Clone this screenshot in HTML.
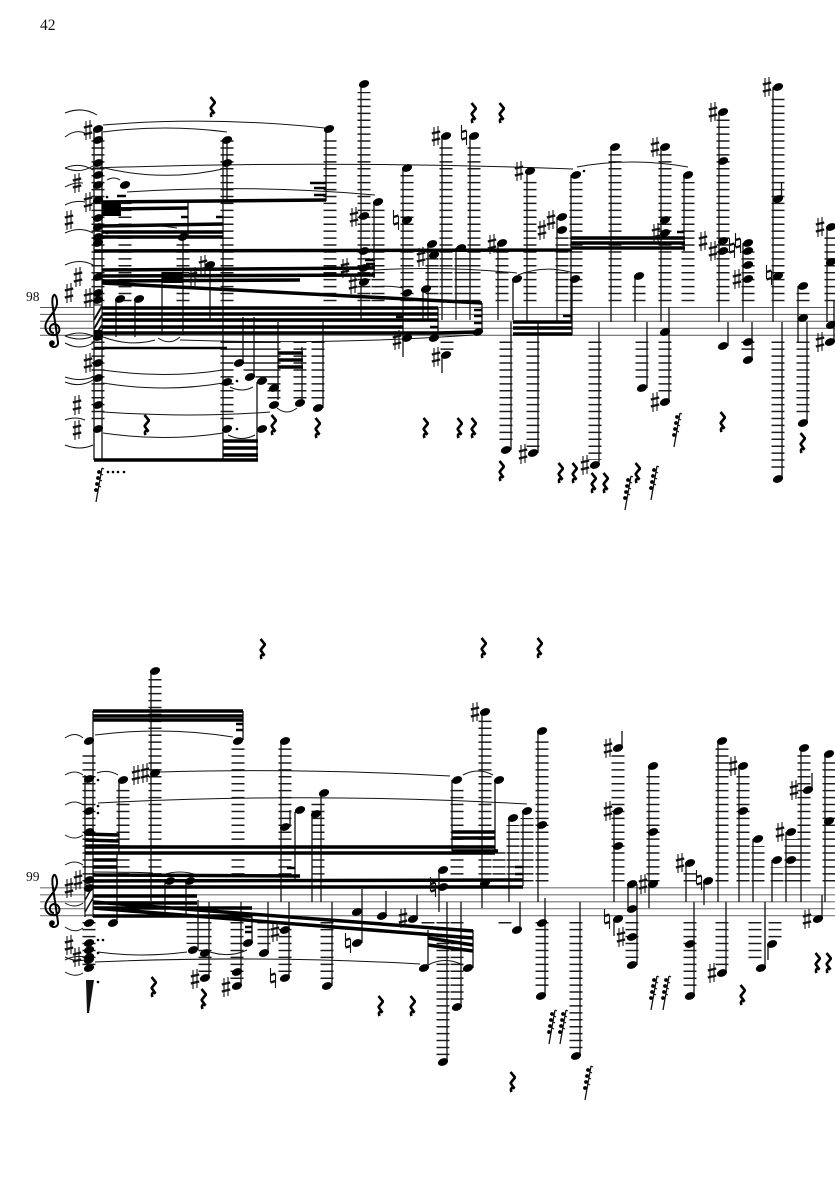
<!DOCTYPE html>
<html><head><meta charset="utf-8"><style>
html,body{margin:0;padding:0;background:#fff}
svg{display:block}
text{font-family:"Liberation Serif",serif;fill:#111}
.staff{stroke:#555;stroke-width:1;fill:none}
.staff2{stroke:#777;stroke-width:1.2;fill:none}
.led{stroke:#1a1a1a;stroke-width:13;stroke-dasharray:1.5 5.43;fill:none}
.stem{stroke:#111;stroke-width:1.3;fill:none}
.b{stroke:#000;stroke-width:3.5;fill:none}
.b2{stroke:#000;stroke-width:2.4;fill:none}
.slur{stroke:#111;stroke-width:1;fill:none}
</style></head><body>
<svg xmlns="http://www.w3.org/2000/svg" width="835" height="1181" viewBox="0 0 835 1181">
<defs>
<ellipse id="n" rx="5.3" ry="3.6" transform="rotate(-22)" fill="#000"/>
<g id="s" stroke="#111" fill="none"><path d="M-2-9V10M2-10V9" stroke-width="1.1"/><path d="M-4.200-2.500L4.200-4.500M-4.200 4.500L4.200 2.500" stroke-width="2.400"/></g>
<g id="h" stroke="#111" fill="none"><path d="M-2.500-10V4M2.500-4V10" stroke-width="1.100"/><path d="M-2.500-3L2.500-4.500M-2.500 4.500L2.500 3" stroke-width="2.400"/></g>
<path id="r" d="M-1.500-10L3-4.500L-1.500 1L2.500 6.500C0 5-2 6-.5 10" stroke="#000" stroke-width="2.600" fill="none" stroke-linejoin="bevel"/>
<g id="g"><path d="M3-17L-3 17" stroke="#111" stroke-width="1.300" fill="none"/><circle cx="0" cy="-13" r="1.900"/><circle cx="-1" cy="-7" r="1.900"/><circle cx="-2" cy="-1" r="1.900"/><circle cx="-3" cy="5" r="1.900"/><path d="M3-17l2 1M2-11l2 1M1-5l2 1M0 1l2 1" stroke="#111" stroke-width="1.200"/></g>
<g id="c"><path d="M1 5C-4 5-5-3 1-4C7-4 9 5 2 7C-6 8-10 0-6-7C-3-13 3-17 4-24C4.500-30 2-34 1-33C-1-31-1-26 0-20L5 14C6 20-3 21-3 15" fill="none" stroke="#000" stroke-width="2"/><circle cx="-1" cy="15" r="2.800" fill="#000"/></g>
</defs>

<text x="40" y="30" font-size="15.500">42</text>
<text x="26" y="301" font-size="13.500">98</text>
<text x="26" y="881" font-size="13.500">99</text>

<path class="staff" d="M40 307.500H835M40 314.400H835M40 321.300H835M40 328.200H835M40 335.200H835"/>
<path class="staff2" d="M40 887.800H835M40 894.800H835M40 901.800H835M40 908.700H835M40 915.700H835"/>
<use href="#c" x="53" y="328"/>
<use href="#c" x="53" y="908"/>

<!-- ledger stacks system 1 -->
<path class="led" d="M98 301.200V137M125 301.200V200M183 301.200V243M227 301.200V140M330 301.200V137M364 301.200V92M378 301.200V209M407 301.200V175M432 301.200V251M446 301.200V143M461 301.200V255M474 301.200V143M502 301.200V250M530 301.200V178M562 301.200V237M576 301.200V182M615 301.200V153M665 301.200V153M688 301.200V182M639 301.200V283M723 301.200V118M748 301.200V250M778 301.200V94M803 301.200V292M831 301.200V234
M98 341.500V421M227 341.500V421M240 341.500V360M250 341.500V375M262 341.500V380M274 341.500V400M300 341.500V400M318 341.500V402M447 341.500V350M506 341.500V445M533 341.500V449M595 341.500V460M642 341.500V382M665 341.500V396M748 341.500V350M778 341.500V473M803 341.500V417"/>
<!-- ledger stacks system 2 -->
<path class="led" d="M89 881.500V755M155 881.500V678M123 881.500V786M238 881.500V748M285 881.500V748M318 881.500V800M457 881.500V787M485 881.500V720M499 881.500V852M513 881.500V825M527 881.500V818M542 881.500V740M618 881.500V754M653 881.500V773M690 881.500V870M722 881.500V748M743 881.500V773M758 881.500V846M777 881.500V867M791 881.500V839M804 881.500V754M829 881.500V760
M89 922V966M193 922V944M205 922V972M237 922V980M264 922V946M285 922V972M327 922V980M372 922V924M428 922V924M443 922V1056M457 922V1000M505 922V924M542 922V990M576 922V1050M632 922V958M690 922V990M722 922V966M755 922V960M775 922V940"/>

<!-- stems -->
<path class="stem" d="M94 130V460M102 130V460M116 300V337M135 300V337M162 272V335M183 237V335M188 203V237M210 265V320M223 140V460M227 140V200M243 317V363M254 317V377M257 382V460M278 322V400M302 347V403M323 322V408M326 129V201M361 84V320M374 202V278M403 168V357M423 289V320M428 244V320M438 308V334M442 136V320M442 355V373M456 248V320M470 136V320M482 303V332M498 243V320M511 322V450M513 279V320M527 171V322M538 322V453M557 217V322M571 175V322M572 279V335M599 322V462M611 147V322M635 276V322M647 322V388M661 147V322M669 307V400M684 175V251M719 112V322M728 322V346M743 243V322M752 322V360M773 87V322M782 322V479M781.500 182V199M798 286V342M807 322V423M827 227V322M834 300V342"/>
<path class="stem" d="M85 775V917M93 711V917M119 780V853M117 853V920M151 671V901M165 881V915M186 881V915M198 900V950M209 902V978M241 902V986M243 711V740M252 916V943M268 902V953M281 741V902M290 810V827M295 812V880M289 902V978M312 814V902M321 793V902M332 902V986M362 889V943M386 891V916M417 895V919M428 930V968M439 870V912M447 902V1062M452 780V851M461 902V1007M473 930V968M482 712V908M495 780V851M509 818V902M520 902V928M523 811V886M538 731V902M545 898V995M580 902V1056M614 811V902M614 919V936M622 731V748M628 884V909M637 884V965M649 766V908M686 863V902M694 902V995M704 881V905M718 741V902M726 902V973M739 766V902M753 839V902M765 902V968M768 944V960M772 860V902M786 832V902M801 748V902M812 773V790M822 895V919M825 754V902"/>

<!-- beams system 1 -->
<rect x="102" y="201" width="19" height="15" fill="#000"/>
<rect x="162" y="272" width="21" height="11" fill="#000"/>
<path class="b" d="M102 202L326 200M102 209L188 208M102 214H121M102 226L223 224M102 232H223M102 237H223M94 251L572 250M102 270L375 268M102 276L375 275M102 281L300 280M102 283L482 303M102 308H438M102 314H438M102 320H438M102 327H403M102 333H438M438 333L478 332M513 322H572M513 328H572M513 334H572M571 238H685M571 243H685M571 248H685M94 460H258M223 441H258M223 448H258M223 455H258M278 353H303M278 360H303M278 367H303"/>
<path class="b2" d="M94 348H227M310 183H326M314 188H326M314 195H326M365 260H375M366 264H375M474 310H482M474 316H482M474 323H482M396 317H403M430 327H438M563 316H572M677 232H684M188 217H181M223 217H216M126 196H117"/>
<!-- beams system 2 -->
<path class="b" d="M93 711H243M93 716H243M93 720H243M85 834L119 835M85 840L119 841M85 846H119M85 847H495M85 853H495M93 860H117M93 867H117M452 832H495M452 838H495M93 875L300 876M85 881L523 880M85 887L523 887M93 896H197M93 903H197M93 908H252M93 916H252M93 902L473 931M93 908L473 938M428 938L473 945M428 945L473 951M498 851H452"/>
<path class="b2" d="M236 724H243M236 730H243M515 867H523M515 874H523M245 927H252M245 932H252M287 868H295"/>

<!-- hatches -->
<path d="M94 305H102V335H94Z" fill="#fff" stroke="#111" stroke-width="1"/>
<path d="M94 320L102 306M94 329L102 315M94 337L102 325" stroke="#111" stroke-width="2" fill="none"/>
<path d="M85 885H93V915H85Z" fill="#fff" stroke="#111" stroke-width="1"/>
<path d="M85 900L93 886M85 912L93 898" stroke="#111" stroke-width="1.500" fill="none"/>
<rect x="94" y="330" width="8" height="10" fill="#000"/>

<!-- slurs system 1 -->
<path class="slur" d="M103 125Q210 116 325 128M103 132Q165 124 227 132M93 168Q330 160 573 169M100 167Q165 183 227 168M127 192Q250 184 375 195M105 227Q140 222 177 228M107 180Q114 176 120 180M103 337Q130 347 155 340M158 338Q170 346 180 337M180 340Q330 345 473 335M103 370Q165 379 223 370M103 383Q165 393 223 383M103 412Q190 418 270 412M103 433Q165 442 223 433M230 387Q242 393 253 387M228 435Q242 442 255 435M277 408Q287 416 297 408M577 167Q630 157 688 167M518 275Q543 265 570 272M374 270Q445 266 517 273M375 287Q390 285 403 288M65 113Q82 106 97 115M65 137Q75 129 85 133M65 168Q80 162 93 170M65 168Q80 174 93 166M65 187Q74 182 83 183M65 205Q75 200 85 202M65 233Q80 226 93 233M65 265Q80 258 93 265M65 336Q80 330 93 336M65 336Q80 342 93 336M65 343Q80 351 93 343M65 377Q80 382 93 377M65 382Q80 388 93 380M65 420Q75 416 85 420M65 445Q80 451 93 445"/>
<!-- slurs system 2 -->
<path class="slur" d="M95 735Q165 726 233 737M160 772Q300 768 450 776M463 775Q478 767 493 775M97 773Q108 769 118 775M98 803Q310 792 527 804M95 962Q260 955 420 964M98 952Q140 958 187 952M210 952Q230 958 247 950M428 965Q445 956 463 965M93 872Q125 872 153 873M162 875Q180 869 197 875M65 738Q75 731 83 738M65 775Q75 769 83 775M65 805Q75 799 83 805M65 835Q75 841 83 835M65 865Q75 859 83 865M65 903Q75 909 83 903M65 927Q75 934 83 928M65 957Q75 962 85 960M65 960Q75 955 85 957M65 972Q75 978 83 973"/>

<!-- notes system 1 -->
<use href="#n" x="98" y="129"/><use href="#n" x="98" y="140"/><use href="#n" x="98" y="163"/><use href="#n" x="98" y="175"/><use href="#n" x="98" y="185"/><use href="#n" x="98" y="200"/><use href="#n" x="98" y="218"/><use href="#n" x="98" y="227"/><use href="#n" x="98" y="237"/><use href="#n" x="98" y="243"/><use href="#n" x="98" y="277"/><use href="#n" x="98" y="293"/><use href="#n" x="98" y="300"/><use href="#n" x="98" y="337"/><use href="#n" x="98" y="363"/><use href="#n" x="98" y="378"/><use href="#n" x="98" y="405"/><use href="#n" x="98" y="429"/>
<use href="#n" x="125" y="185"/><use href="#n" x="120" y="299"/><use href="#n" x="139" y="299"/><use href="#n" x="183" y="237"/><use href="#n" x="210" y="265"/><use href="#n" x="227" y="140"/><use href="#n" x="227" y="163"/><use href="#n" x="227" y="382"/><use href="#n" x="227" y="429"/><use href="#n" x="239" y="363"/><use href="#n" x="250" y="377"/><use href="#n" x="262" y="381"/><use href="#n" x="274" y="388"/><use href="#n" x="274" y="405"/><use href="#n" x="262" y="429"/><use href="#n" x="300" y="403"/><use href="#n" x="318" y="408"/>
<use href="#n" x="329" y="129"/><use href="#n" x="364" y="84"/><use href="#n" x="364" y="216"/><use href="#n" x="364" y="251"/><use href="#n" x="364" y="268"/><use href="#n" x="364" y="282"/><use href="#n" x="378" y="202"/><use href="#n" x="407" y="168"/><use href="#n" x="407" y="220"/><use href="#n" x="407" y="293"/><use href="#n" x="407" y="338"/><use href="#n" x="432" y="244"/><use href="#n" x="434" y="255"/><use href="#n" x="426" y="289"/><use href="#n" x="434" y="338"/><use href="#n" x="446" y="355"/><use href="#n" x="446" y="136"/><use href="#n" x="461" y="248"/><use href="#n" x="474" y="136"/><use href="#n" x="478" y="332"/><use href="#n" x="502" y="243"/><use href="#n" x="530" y="171"/><use href="#n" x="517" y="279"/><use href="#n" x="562" y="217"/><use href="#n" x="562" y="230"/><use href="#n" x="576" y="175"/><use href="#n" x="575" y="279"/><use href="#n" x="506" y="450"/><use href="#n" x="533" y="453"/>
<use href="#n" x="615" y="147"/><use href="#n" x="665" y="147"/><use href="#n" x="665" y="220"/><use href="#n" x="665" y="233"/><use href="#n" x="688" y="175"/><use href="#n" x="639" y="276"/><use href="#n" x="723" y="112"/><use href="#n" x="723" y="161"/><use href="#n" x="723" y="241"/><use href="#n" x="723" y="251"/><use href="#n" x="748" y="243"/><use href="#n" x="748" y="251"/><use href="#n" x="748" y="265"/><use href="#n" x="748" y="279"/><use href="#n" x="778" y="87"/><use href="#n" x="778" y="199"/><use href="#n" x="778" y="276"/><use href="#n" x="803" y="286"/><use href="#n" x="803" y="318"/><use href="#n" x="803" y="423"/><use href="#n" x="831" y="227"/><use href="#n" x="831" y="262"/><use href="#n" x="831" y="325"/><use href="#n" x="830" y="342"/>
<use href="#n" x="595" y="465"/><use href="#n" x="642" y="388"/><use href="#n" x="665" y="332"/><use href="#n" x="665" y="402"/><use href="#n" x="723" y="346"/><use href="#n" x="748" y="342"/><use href="#n" x="748" y="360"/><use href="#n" x="778" y="479"/>

<!-- notes system 2 -->
<use href="#n" x="89" y="741"/><use href="#n" x="238" y="741"/><use href="#n" x="155" y="671"/><use href="#n" x="155" y="773"/><use href="#n" x="89" y="779"/><use href="#n" x="89" y="811"/><use href="#n" x="89" y="832"/><use href="#n" x="89" y="880"/><use href="#n" x="89" y="888"/><use href="#n" x="89" y="923"/><use href="#n" x="89" y="943"/><use href="#n" x="89" y="950"/><use href="#n" x="89" y="957"/><use href="#n" x="89" y="960"/><use href="#n" x="89" y="968"/><use href="#n" x="123" y="780"/><use href="#n" x="113" y="923"/>
<use href="#n" x="285" y="741"/><use href="#n" x="285" y="827"/><use href="#n" x="300" y="810"/><use href="#n" x="316" y="814"/><use href="#n" x="324" y="793"/><use href="#n" x="170" y="881"/><use href="#n" x="190" y="881"/><use href="#n" x="193" y="950"/><use href="#n" x="205" y="953"/><use href="#n" x="205" y="978"/><use href="#n" x="237" y="972"/><use href="#n" x="237" y="986"/><use href="#n" x="248" y="943"/><use href="#n" x="264" y="953"/><use href="#n" x="285" y="930"/><use href="#n" x="285" y="978"/><use href="#n" x="327" y="986"/>
<use href="#n" x="357" y="912"/><use href="#n" x="357" y="943"/><use href="#n" x="382" y="916"/><use href="#n" x="413" y="919"/><use href="#n" x="424" y="968"/><use href="#n" x="468" y="968"/><use href="#n" x="443" y="870"/><use href="#n" x="443" y="887"/><use href="#n" x="443" y="1062"/><use href="#n" x="457" y="1007"/><use href="#n" x="457" y="780"/><use href="#n" x="499" y="780"/><use href="#n" x="485" y="712"/><use href="#n" x="485" y="883"/><use href="#n" x="542" y="731"/><use href="#n" x="542" y="825"/><use href="#n" x="542" y="923"/><use href="#n" x="541" y="996"/><use href="#n" x="513" y="818"/><use href="#n" x="527" y="811"/><use href="#n" x="517" y="930"/>
<use href="#n" x="618" y="748"/><use href="#n" x="618" y="811"/><use href="#n" x="618" y="846"/><use href="#n" x="653" y="766"/><use href="#n" x="653" y="832"/><use href="#n" x="653" y="884"/><use href="#n" x="632" y="884"/><use href="#n" x="632" y="909"/><use href="#n" x="632" y="937"/><use href="#n" x="632" y="965"/><use href="#n" x="618" y="919"/><use href="#n" x="576" y="1056"/><use href="#n" x="690" y="863"/><use href="#n" x="708" y="881"/><use href="#n" x="690" y="944"/><use href="#n" x="690" y="996"/><use href="#n" x="722" y="741"/><use href="#n" x="743" y="766"/><use href="#n" x="743" y="811"/><use href="#n" x="722" y="973"/><use href="#n" x="758" y="839"/><use href="#n" x="777" y="860"/><use href="#n" x="791" y="832"/><use href="#n" x="791" y="860"/><use href="#n" x="804" y="748"/><use href="#n" x="808" y="790"/><use href="#n" x="829" y="754"/><use href="#n" x="829" y="821"/><use href="#n" x="818" y="919"/><use href="#n" x="761" y="968"/><use href="#n" x="772" y="944"/>

<!-- sharps -->
<use href="#s" x="88" y="130"/><use href="#s" x="77" y="183"/><use href="#s" x="88" y="202"/><use href="#s" x="69" y="220"/><use href="#s" x="78" y="277"/><use href="#s" x="69" y="293"/><use href="#s" x="88" y="298"/><use href="#s" x="88" y="363"/><use href="#s" x="77" y="405"/><use href="#s" x="77" y="430"/><use href="#s" x="193" y="277"/><use href="#s" x="203" y="265"/><use href="#s" x="354" y="217"/><use href="#s" x="345" y="268"/><use href="#s" x="353" y="284"/><use href="#s" x="397" y="340"/><use href="#s" x="421" y="257"/><use href="#s" x="436" y="136"/><use href="#s" x="436" y="357"/><use href="#s" x="492" y="244"/><use href="#s" x="519" y="171"/><use href="#s" x="551" y="220"/><use href="#s" x="542" y="230"/><use href="#s" x="523" y="454"/><use href="#s" x="585" y="465"/><use href="#s" x="655" y="147"/><use href="#s" x="656" y="233"/><use href="#s" x="655" y="402"/><use href="#s" x="713" y="112"/><use href="#s" x="703" y="241"/><use href="#s" x="713" y="251"/><use href="#s" x="737" y="279"/><use href="#s" x="767" y="87"/><use href="#s" x="820" y="227"/><use href="#s" x="820" y="342"/>
<use href="#s" x="69" y="888"/><use href="#s" x="78" y="880"/><use href="#s" x="69" y="945"/><use href="#s" x="77" y="957"/><use href="#s" x="136" y="775"/><use href="#s" x="145" y="773"/><use href="#s" x="195" y="979"/><use href="#s" x="226" y="987"/><use href="#s" x="275" y="932"/><use href="#s" x="403" y="918"/><use href="#s" x="475" y="712"/><use href="#s" x="608" y="748"/><use href="#s" x="608" y="811"/><use href="#s" x="621" y="937"/><use href="#s" x="643" y="884"/><use href="#s" x="680" y="863"/><use href="#s" x="712" y="973"/><use href="#s" x="733" y="766"/><use href="#s" x="780" y="832"/><use href="#s" x="794" y="790"/><use href="#s" x="807" y="919"/>

<!-- naturals -->
<use href="#h" x="396" y="220"/><use href="#h" x="464" y="135"/><use href="#h" x="732" y="248"/><use href="#h" x="738" y="243"/><use href="#h" x="769" y="275"/><use href="#h" x="273" y="978"/><use href="#h" x="348" y="943"/><use href="#h" x="433" y="887"/><use href="#h" x="607" y="919"/><use href="#h" x="699" y="880"/>

<!-- rests -->
<use href="#r" x="212" y="107"/><use href="#r" x="146" y="425"/><use href="#r" x="273" y="425"/><use href="#r" x="473" y="113"/><use href="#r" x="501" y="113"/><use href="#r" x="317" y="428"/><use href="#r" x="425" y="428"/><use href="#r" x="459" y="428"/><use href="#r" x="473" y="428"/><use href="#r" x="501" y="471"/><use href="#r" x="560" y="473"/><use href="#r" x="574" y="473"/><use href="#r" x="593" y="483"/><use href="#r" x="605" y="483"/><use href="#r" x="637" y="473"/><use href="#r" x="722" y="422"/><use href="#r" x="802" y="443"/>
<use href="#r" x="262" y="649"/><use href="#r" x="483" y="648"/><use href="#r" x="539" y="648"/><use href="#r" x="153" y="987"/><use href="#r" x="203" y="999"/><use href="#r" x="380" y="1006"/><use href="#r" x="412" y="1006"/><use href="#r" x="512" y="1082"/><use href="#r" x="742" y="995"/><use href="#r" x="817" y="963"/><use href="#r" x="828" y="963"/>

<!-- grace clusters -->
<use href="#g" x="99" y="485"/><use href="#g" x="677" y="430"/><use href="#g" x="628" y="493"/><use href="#g" x="654" y="483"/><use href="#g" x="654" y="993"/><use href="#g" x="666" y="993"/><use href="#g" x="552" y="1027"/><use href="#g" x="563" y="1027"/><use href="#g" x="588" y="1083"/>
<path d="M86 980H94L89 1013H87Z" fill="#111"/>

<!-- dots -->
<g fill="#000"><circle cx="107" cy="197" r="1.300"/><circle cx="107" cy="233" r="1.300"/><circle cx="108" cy="472" r="1.300"/><circle cx="113" cy="472" r="1.300"/><circle cx="118" cy="472" r="1.300"/><circle cx="124" cy="472" r="1.300"/><circle cx="237" cy="381" r="1.300"/><circle cx="237" cy="429" r="1.300"/><circle cx="584" cy="171" r="1.300"/><circle cx="98" cy="780" r="1.300"/><circle cx="98" cy="806" r="1.300"/><circle cx="98" cy="813" r="1.300"/><circle cx="98" cy="940" r="1.300"/><circle cx="103" cy="940" r="1.300"/><circle cx="98" cy="953" r="1.300"/><circle cx="98" cy="982" r="1.300"/></g>
</svg>
</body></html>
